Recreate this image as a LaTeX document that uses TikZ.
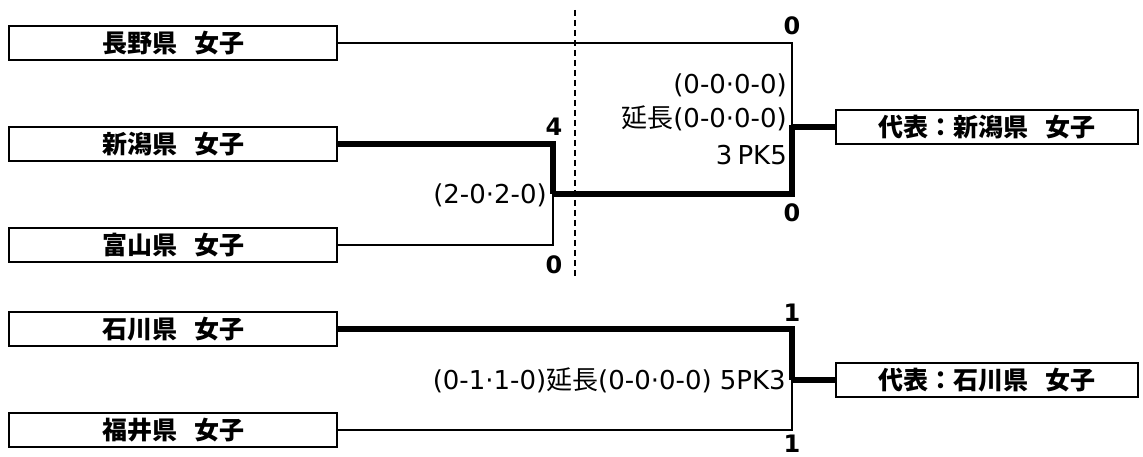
\documentclass[tikz,border=0pt]{standalone}
\usepackage{fontspec}
\setmainfont{DejaVu Sans}
\newfontfamily\jpfont{Noto Sans CJK JP}
\begin{document}
\begin{tikzpicture}[x=1pt,y=-1pt]
\tikzstyle{team}=[draw,line width=1.8pt,minimum width=328pt,minimum height=34pt,inner sep=0pt,font=\fontsize{25}{25}\jpfont\bfseries]
\tikzstyle{winner}=[team,minimum width=302pt]
\tikzstyle{lose}=[line width=1.8pt,line join=miter]
\tikzstyle{win}=[line width=5.5pt,line join=miter]
\tikzstyle{score}=[inner sep=0pt,font=\fontsize{24}{24}\selectfont\bfseries]
\tikzstyle{result}=[inner sep=0pt,anchor=east,font=\fontsize{26}{26}\selectfont]
\useasboundingbox (0,0) rectangle (1143,457);
% teams
\node[team] (NAG) at (173,43) {長野県\hspace{17pt}女子};
\node[team] (NII) at (173,144) {新潟県\hspace{17pt}女子};
\node[team] (TOY) at (173,245) {富山県\hspace{17pt}女子};
\node[team] (ISH) at (173,329) {石川県\hspace{17pt}女子};
\node[team] (FUK) at (173,430) {福井県\hspace{17pt}女子};
\node[winner] (W1) at (987,127) {代表：新潟県\hspace{17pt}女子};
\node[winner] (W2) at (987,380) {代表：石川県\hspace{17pt}女子};
% joints
\coordinate (S1) at (553,194);
\coordinate (F1) at (792,127);
\coordinate (F2) at (792,380);
% first block
\draw[lose] (TOY.east) -- (553,245) -- (S1);
\draw[win] (NII.east) -- (553,144) -- (S1);
\draw[lose] (NAG.east) -- (792,43) -- (F1);
\draw[win] (S1) -- (792,194) -- (792,125);
\draw[win] (F1) -- (W1.west);
\draw[line width=1.6pt,dash pattern=on 6pt off 4pt] (575,10) -- (575,278);
% second block
\draw[lose] (FUK.east) -- (792,430) -- (F2);
\draw[win] (ISH.east) -- (792,329) -- (F2);
\draw[win] (F2) -- (W2.west);
% scores
\node[score] (N4) at (554,127) {4};
\node[score] (T0) at (554,265) {0};
\node[score] (A0) at (792,26) {0};
\node[score] (B0) at (792,213) {0};
\node[score] (I1) at (792,313) {1};
\node[score] (K1) at (792,444) {1};
\node[result] (R1) at (547,195) {(2-0·2-0)};
\node[result] (R2) at (787,85) {(0-0·0-0)};
\node[result] (R3) at (787,118) {{\jpfont 延長}(0-0·0-0)};
\node[result] (R4) at (787,155) {3\hspace{5pt}PK5};
\node[result] (R5) at (786,380) {(0-1·1-0){\jpfont 延長}(0-0·0-0) 5PK3};
\end{tikzpicture}
\end{document}
